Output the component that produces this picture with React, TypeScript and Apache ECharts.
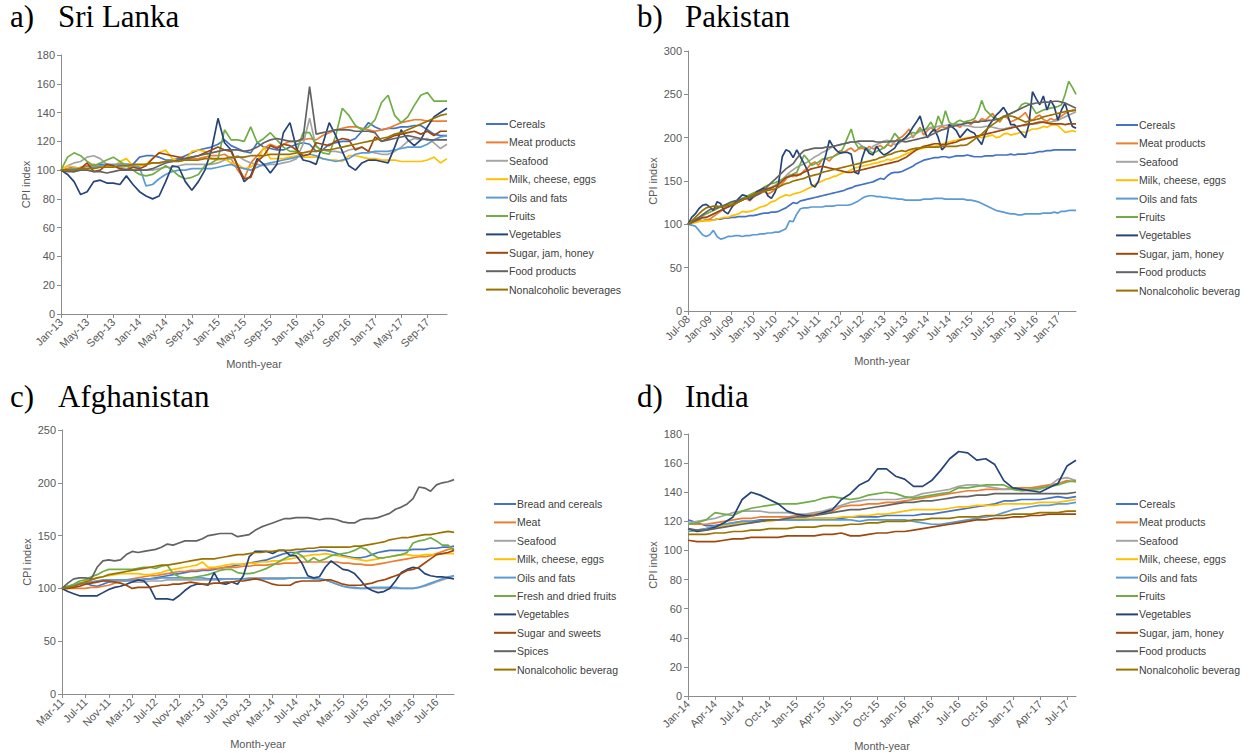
import React, { useEffect, useRef } from 'react';
import * as echarts from 'echarts';

const MONTHS = ['Jan', 'Feb', 'Mar', 'Apr', 'May', 'Jun', 'Jul', 'Aug', 'Sep', 'Oct', 'Nov', 'Dec'];
function monthLabels(startMonth: number, startYear: number, count: number): string[] {
  const out: string[] = [];
  for (let k = 0; k < count; k++) {
    const m = (startMonth + k) % 12;
    const y = startYear + Math.floor((startMonth + k) / 12);
    out.push(MONTHS[m] + '-' + String(y).padStart(2, '0'));
  }
  return out;
}

const categoriesA = monthLabels(0, 13, 60);
const categoriesB = monthLabels(6, 8, 108);
const categoriesC = monthLabels(2, 11, 68);
const categoriesD = monthLabels(0, 14, 44);

const namesStd = ['Cereals', 'Meat products', 'Seafood', 'Milk, cheese, eggs', 'Oils and fats', 'Fruits', 'Vegetables', 'Sugar, jam, honey', 'Food products', 'Nonalcoholic beverages'];
const namesC = ['Bread and cereals', 'Meat', 'Seafood', 'Milk, cheese, eggs', 'Oils and fats', 'Fresh and dried fruits', 'Vegetables', 'Sugar and sweets', 'Spices', 'Nonalcoholic beverages'];
const colors = ['#4472C4', '#ED7D31', '#A5A5A5', '#FFC000', '#5B9BD5', '#70AD47', '#264478', '#9E480E', '#636363', '#997300'];

// ---------- a) Sri Lanka ----------
const cerealsA = [100,101,102,101,103,103,104,104,103,104,104,104,109,110,110,109,107,107,108,110,112,114,115,116,118,121,117,115,113,112,119,116,115,114,114,116,118,119,118,113,114,118,119,120,120,122,127,133,130,128,129,129,130,130,131,131,128,125,124,124];
const meatA = [100,101,100,102,103,104,103,102,103,104,103,102,103,104,105,105,106,106,107,107,108,108,109,110,110,111,108,100,94,105,110,115,118,116,118,120,120,121,122,121,124,126,128,129,130,130,129,128,127,128,129,131,133,134,135,135,134,134,134,134];
const seafoodA = [100,103,105,106,109,110,108,104,103,102,101,100,100,100,100,101,102,102,103,104,104,104,104,104,105,107,108,110,107,105,104,103,104,104,105,106,108,118,136,116,114,113,113,112,114,115,116,113,112,111,111,113,116,120,122,121,122,119,115,118];
const milkA = [100,103,102,101,101,102,103,102,102,106,108,103,103,104,108,112,114,108,106,107,113,114,113,108,107,108,105,104,101,102,106,116,108,108,108,109,110,109,109,109,108,107,107,106,110,110,109,108,108,107,107,107,106,106,106,106,107,109,105,108];
const oilsA = [100,100,101,101,101,102,103,104,104,104,104,103,102,89,90,94,97,99,100,100,101,101,101,101,102,103,104,102,101,100,102,104,105,106,107,108,109,110,111,110,108,107,106,107,108,111,112,112,113,113,113,114,115,116,116,116,118,121,123,124];
const fruitsA = [100,109,112,110,106,103,105,107,109,106,103,100,97,96,97,100,103,100,96,94,95,97,103,105,108,128,121,121,120,130,119,122,126,121,116,113,113,126,126,117,112,111,124,143,138,131,128,130,135,147,152,138,133,137,145,152,154,148,148,148];
const vegA = [100,97,92,83,85,92,93,91,91,90,96,90,85,82,80,82,92,103,102,92,86,92,100,114,136,119,114,103,92,96,108,104,98,104,126,133,115,107,106,104,118,133,124,113,103,100,105,107,107,106,105,116,128,121,117,121,130,137,140,143];
const sugarA = [100,100,99,101,105,99,100,104,103,101,100,102,101,103,108,112,111,110,109,108,109,110,112,114,116,114,113,103,94,95,106,110,117,115,118,117,114,110,111,119,118,117,120,122,121,114,116,113,123,120,122,124,125,126,127,125,127,124,127,127];
const foodA = [100,99,99,100,100,99,99,98,99,100,100,100,100,100,101,103,105,106,107,108,109,110,111,112,113,114,114,114,113,114,116,119,121,122,121,120,120,122,158,125,126,127,128,128,128,127,127,127,126,120,121,122,123,124,123,122,121,121,121,121];
const nonalcA = [100,100,100,101,101,101,102,102,102,103,103,104,104,104,105,105,106,106,106,107,107,107,108,108,108,108,109,109,109,110,110,110,111,111,111,111,112,112,113,113,114,114,115,116,117,118,119,120,121,122,123,125,126,128,130,132,134,136,138,139];

// ---------- b) Pakistan ----------
const cerealsB = [100,102,103,104,104,105,105,105,106,106,107,107,108,108,109,109,109,110,110,111,112,113,113,114,114,115,117,119,122,125,124,127,128,129,130,131,132,133,134,135,136,137,138,139,141,142,144,145,146,147,148,149,151,153,152,156,159,160,160,161,163,165,167,170,172,174,175,176,177,177,178,178,177,178,179,179,179,180,179,178,178,178,179,179,179,180,180,180,180,181,180,181,181,181,182,182,183,184,184,185,185,186,186,186,186,186,186,186];
const meatB = [100,102,104,104,104,105,106,109,112,115,118,120,121,123,126,128,130,127,131,134,136,138,135,137,140,143,147,152,157,155,158,157,162,165,170,172,168,175,176,173,178,181,185,183,186,188,184,187,188,186,190,187,189,191,188,192,190,195,199,201,205,210,200,206,212,203,208,212,207,210,213,211,213,215,214,212,216,218,215,220,218,222,220,224,228,222,218,225,223,218,220,222,225,229,222,220,224,226,221,219,222,220,222,225,228,230,232,231];
const seafoodB = [100,101,103,105,107,108,110,112,114,116,119,121,122,124,126,128,130,131,133,135,137,139,141,143,145,148,152,156,160,163,166,168,170,172,175,178,180,183,185,187,190,191,192,193,194,195,195,194,190,188,186,190,192,194,196,197,195,192,193,196,198,200,202,205,207,209,210,212,212,213,214,214,215,215,216,215,214,214,213,212,212,212,213,213,212,211,210,210,211,212,213,213,214,214,215,216,216,217,218,217,218,219,220,222,224,226,228,230];
const milkB = [100,101,102,103,104,104,104,105,106,107,108,108,110,111,112,115,114,115,116,118,120,121,123,126,127,130,132,134,133,135,136,137,139,141,143,146,148,150,152,153,155,156,158,160,161,163,165,166,167,168,169,170,171,172,173,175,174,176,177,179,181,183,185,186,187,188,189,190,190,191,192,194,195,196,197,198,199,200,200,201,201,200,201,202,203,200,201,204,205,203,204,205,207,206,208,210,210,211,213,212,214,215,214,210,206,207,208,207];
const oilsB = [100,99,98,93,88,86,88,93,86,83,84,86,86,87,87,86,87,87,88,88,89,89,90,90,91,91,93,95,104,103,112,118,119,119,120,120,120,120,121,121,121,122,122,122,122,123,125,127,130,132,133,133,132,132,131,131,130,130,129,129,128,128,128,128,128,129,129,129,130,130,130,129,129,129,129,129,129,128,128,127,126,124,122,120,118,116,115,114,113,112,112,111,111,112,112,112,112,112,113,113,113,114,113,115,115,116,116,116];
const fruitsB = [100,103,106,108,110,112,114,116,118,120,122,123,124,126,128,130,132,134,136,138,140,143,145,147,148,150,152,154,156,158,160,170,180,175,168,170,172,175,176,177,178,180,182,190,200,210,195,188,190,188,185,182,184,186,188,192,197,205,200,196,200,204,206,205,210,208,212,218,210,225,215,231,218,215,218,220,218,219,220,222,230,243,232,228,224,222,220,224,226,228,230,232,238,240,239,235,228,230,232,233,234,235,236,238,250,265,258,250];
const vegB = [100,108,112,118,122,123,120,116,126,124,115,112,119,125,130,134,133,128,132,138,140,142,133,130,137,148,178,186,184,177,186,178,170,162,146,143,150,165,180,197,190,185,182,183,183,181,160,158,176,188,182,180,190,184,180,182,185,188,195,197,200,205,212,218,225,210,200,206,210,200,186,190,215,212,208,200,205,210,207,205,198,192,205,214,220,226,230,235,228,215,215,210,205,200,215,253,245,238,248,232,243,236,220,232,240,225,213,211];
const sugarB = [100,102,104,106,108,108,110,112,114,116,118,120,122,124,126,128,130,132,134,136,138,140,141,142,144,146,150,154,155,157,156,158,160,162,164,165,166,167,166,165,164,163,162,161,160,160,161,162,163,164,165,166,167,168,169,170,171,172,173,175,177,180,183,186,188,190,191,192,193,193,192,192,193,194,195,197,198,199,200,201,202,203,204,205,206,207,208,209,210,211,212,213,214,215,216,216,217,218,218,217,216,216,216,216,215,216,216,216];
const foodB = [100,102,105,108,111,114,117,118,119,121,122,124,126,127,128,129,130,131,132,134,136,140,144,148,152,156,160,164,167,170,176,181,185,186,187,188,188,188,189,189,190,191,192,193,194,195,195,196,196,196,196,196,195,195,195,195,196,196,197,196,195,196,197,198,199,200,201,203,205,207,209,210,212,213,214,215,216,217,217,218,218,219,219,220,220,221,222,224,226,228,230,232,234,236,238,239,240,240,241,241,241,242,242,241,240,238,236,234];
const nonalcB = [100,104,108,112,116,119,120,121,121,120,121,122,122,124,126,128,130,132,134,136,137,138,139,140,141,143,145,147,148,150,151,152,153,155,156,157,158,160,161,162,163,164,165,166,167,168,169,170,171,172,173,174,175,177,178,180,181,183,184,185,184,186,187,188,188,189,189,189,189,189,190,190,190,190,190,191,191,192,195,198,201,204,208,212,215,218,222,224,225,225,224,222,220,218,219,220,221,222,224,225,226,227,228,229,230,231,231,232];

// ---------- c) Afghanistan ----------
const breadC = [100,101,102,104,105,103,102,104,106,107,107,107,107,108,108,109,110,111,112,113,114,115,116,116,117,117,118,119,120,121,122,123,124,125,126,127,129,131,133,134,134,135,135,135,136,136,135,133,131,130,129,129,130,132,134,135,136,136,136,136,137,137,137,138,138,139,139,140];
const meatC = [100,100,100,100,100,101,101,102,103,105,107,108,109,110,111,112,112,113,114,115,116,116,117,117,118,118,119,119,120,120,120,121,121,122,122,122,123,123,124,124,124,125,125,125,125,125,125,125,124,124,123,123,122,122,123,124,125,126,127,128,129,130,130,131,133,135,137,138];
const seafoodC = [100,101,102,104,105,106,107,107,107,107,107,107,106,106,106,107,107,107,108,108,108,108,108,108,108,108,108,108,109,109,109,109,110,110,110,110,110,110,110,110,110,110,110,110,109,108,106,104,102,101,100,100,100,100,100,100,100,100,100,100,100,101,102,104,106,108,110,112];
const milkC = [100,101,103,105,107,109,110,111,112,113,114,114,114,114,113,113,114,115,117,118,119,120,121,122,125,120,120,121,122,123,123,123,124,124,125,125,126,126,127,128,129,130,131,132,132,133,132,131,130,129,128,127,126,127,128,129,130,131,132,132,131,131,132,132,132,133,133,133];
const oilsC = [100,102,103,105,105,106,107,108,108,108,108,108,108,108,109,109,109,110,110,110,110,110,110,110,110,109,109,109,109,109,109,109,109,109,109,109,109,109,109,110,110,110,110,109,109,108,106,104,102,101,101,100,100,101,101,101,101,101,100,100,100,101,103,105,107,109,111,112];
const fruitsC = [100,102,104,107,108,111,113,116,118,118,118,118,118,119,120,120,119,121,122,114,111,110,110,111,112,113,115,117,118,118,115,114,114,115,117,119,122,125,128,131,134,131,125,129,126,128,131,132,133,134,136,139,137,132,129,129,130,131,132,134,143,145,146,148,145,141,141,136];
const vegC = [100,97,95,93,93,93,93,96,99,101,102,104,106,108,107,101,90,90,90,89,93,98,102,104,104,103,115,105,104,106,104,112,130,135,135,135,133,136,136,131,131,124,112,110,111,120,126,122,118,117,114,108,101,98,96,97,100,107,115,118,120,119,114,112,111,111,110,109];
const sugarC = [100,100,101,102,104,105,106,107,107,106,105,103,100,101,101,101,102,103,103,104,104,105,106,105,104,104,105,105,106,106,107,107,108,109,108,106,104,103,103,103,106,107,107,107,107,108,108,106,104,103,103,103,104,105,107,108,110,112,114,117,118,120,124,128,132,133,134,136];
const spicesC = [100,105,109,110,110,109,120,126,127,126,127,132,135,134,135,136,137,139,142,141,143,145,145,145,147,150,151,152,152,152,149,150,151,155,158,160,162,164,166,166,167,167,167,166,165,166,166,165,163,162,162,165,166,166,167,169,171,175,177,180,185,196,195,192,198,200,201,203];
const nonalcC = [100,101,102,104,106,108,110,111,113,114,115,116,117,118,119,120,121,122,122,123,124,125,126,127,128,128,128,129,130,131,132,132,133,134,134,135,135,136,136,136,137,137,138,138,139,139,139,139,139,139,140,140,141,142,143,144,146,147,148,148,149,150,151,151,152,153,154,153];

// ---------- d) India ----------
const cerealsD = [121,119,117,117,118,119,120,120,121,121,121,121,121,121,122,122,122,122,123,123,123,123,124,124,124,124,125,125,126,127,128,129,130,131,132,134,134,135,135,135,136,137,136,137];
const meatD = [118,118,118,119,120,121,122,122,123,123,123,123,124,124,125,126,127,130,131,131,132,132,133,133,134,135,136,137,138,139,140,141,141,142,142,142,143,143,143,144,145,146,148,147];
const seafoodD = [119,120,121,122,124,126,127,127,127,126,126,126,125,125,126,127,129,131,133,134,135,135,135,135,136,137,139,140,141,142,144,145,145,144,143,142,142,141,141,142,144,149,150,148];
const milkD = [113,114,115,116,117,118,119,119,120,120,121,121,122,122,122,122,122,123,123,124,124,125,125,126,127,128,128,128,128,129,130,130,131,131,131,132,132,132,132,133,133,133,134,135];
const oilsD = [113,114,115,117,118,119,120,120,120,121,121,121,121,121,121,121,121,121,121,120,121,121,121,121,121,120,119,118,118,119,120,121,122,123,124,126,128,129,130,131,131,132,132,133];
const fruitsD = [118,119,121,126,125,124,127,129,130,131,132,132,132,133,134,136,137,136,135,136,138,139,140,139,137,136,137,138,139,140,143,143,144,145,145,145,142,141,142,143,144,145,147,148];
const vegD = [115,113,114,116,119,123,135,140,138,135,132,127,125,124,124,126,128,135,139,145,148,156,156,151,149,144,144,148,155,163,168,167,162,163,159,148,143,142,141,140,143,146,158,162];
const sugarD = [107,106,106,106,107,108,108,109,109,109,109,110,110,110,110,111,111,112,110,110,111,112,112,113,113,114,115,116,117,118,119,120,121,121,122,122,123,123,124,124,125,125,125,125];
const foodD = [115,114,114,115,116,117,118,119,120,121,121,122,123,123,124,125,126,127,128,128,129,130,131,132,133,133,134,134,135,136,137,137,138,138,139,139,139,139,139,139,139,139,139,140];
const nonalcD = [111,111,111,112,112,113,113,114,114,115,115,115,116,116,116,117,117,117,118,118,119,119,120,120,120,121,121,122,122,122,123,123,123,124,124,124,125,125,125,126,126,126,127,127];

const yMaxes = [180, 300, 250, 180];
const yIntervals = [20, 50, 50, 20];
const labelIntervals = [3, 5, 3, 2];
const panelLetters = ['a)', 'b)', 'c)', 'd)'];
const panelTitles = ['Sri Lanka', 'Pakistan', 'Afghanistan', 'India'];

const panels = [
  { cats: categoriesA, names: namesStd, data: [cerealsA, meatA, seafoodA, milkA, oilsA, fruitsA, vegA, sugarA, foodA, nonalcA] },
  { cats: categoriesB, names: namesStd, data: [cerealsB, meatB, seafoodB, milkB, oilsB, fruitsB, vegB, sugarB, foodB, nonalcB] },
  { cats: categoriesC, names: namesC, data: [breadC, meatC, seafoodC, milkC, oilsC, fruitsC, vegC, sugarC, spicesC, nonalcC] },
  { cats: categoriesD, names: namesStd, data: [cerealsD, meatD, seafoodD, milkD, oilsD, fruitsD, vegD, sugarD, foodD, nonalcD] },
];

// layout (pixels)
const grids = [
  { left: 61, top: 55, width: 386, height: 259 },
  { left: 688, top: 51, width: 388, height: 260 },
  { left: 62, top: 430, width: 392, height: 264 },
  { left: 688, top: 434, width: 388, height: 262 },
];
const legendPos = [
  { left: 486, top: 117, width: 140 },
  { left: 1116, top: 118, width: 104 },
  { left: 494, top: 497, width: 106 },
  { left: 1116, top: 497, width: 105 },
];
const titlePos = [
  { x: 10, y: 1 }, { x: 637, y: 1 }, { x: 10, y: 381 }, { x: 637, y: 381 },
];

const AXIS_COLOR = '#8c8c8c';
const TEXT_COLOR = '#595959';
const SANS = 'Liberation Sans, Arial, sans-serif';
const SERIF = 'Liberation Serif, Times New Roman, serif';

export default function App() {
  const ref = useRef<HTMLDivElement>(null);
  useEffect(() => {
    if (!ref.current) return;
    const chart = echarts.init(ref.current, null, { renderer: 'svg' });
    const series: any[] = [];
    panels.forEach((p, pi) => {
      p.data.forEach((vals, si) => {
        series.push({
          type: 'line',
          name: p.names[si],
          xAxisIndex: pi,
          yAxisIndex: pi,
          data: vals,
          symbol: 'none',
          showSymbol: false,
          color: colors[si],
          lineStyle: { width: 1.7, color: colors[si] },
          itemStyle: { color: colors[si] },
          emphasis: { disabled: true },
        });
      });
    });
    const titles: any[] = [];
    titlePos.forEach((tp, i) => {
      const ts = { fontFamily: SERIF, fontSize: 31, fontWeight: 'normal', color: '#000' };
      titles.push({ text: panelLetters[i], left: tp.x, top: tp.y, padding: 0, textStyle: ts });
      titles.push({ text: panelTitles[i], left: tp.x + 48, top: tp.y, padding: 0, textStyle: ts });
    });
    const option: any = {
      animation: false,
      backgroundColor: '#ffffff',
      title: titles,
      grid: grids.map((g) => ({ ...g, containLabel: false, outerBoundsMode: 'none' })),
      xAxis: panels.map((p, i) => ({
        type: 'category',
        gridIndex: i,
        data: p.cats,
        boundaryGap: false,
        axisLine: { lineStyle: { color: AXIS_COLOR, width: 1 } },
        axisTick: { show: true, interval: labelIntervals[i], length: 4, lineStyle: { color: AXIS_COLOR } },
        axisLabel: { interval: labelIntervals[i], rotate: 45, fontSize: 11, color: TEXT_COLOR, fontFamily: SANS, margin: 6 },
        splitLine: { show: false },
        name: 'Month-year',
        nameLocation: 'middle',
        nameGap: 44,
        nameTextStyle: { fontSize: 11, color: TEXT_COLOR, fontFamily: SANS },
      })),
      yAxis: panels.map((p, i) => ({
        type: 'value',
        gridIndex: i,
        min: 0,
        max: yMaxes[i],
        interval: yIntervals[i],
        axisLine: { show: true, lineStyle: { color: AXIS_COLOR, width: 1 } },
        axisTick: { show: true, length: 4, lineStyle: { color: AXIS_COLOR } },
        axisLabel: { fontSize: 11, color: TEXT_COLOR, fontFamily: SANS, margin: 6 },
        splitLine: { show: false },
        name: 'CPI index',
        nameLocation: 'middle',
        nameRotate: 90,
        nameGap: 30,
        nameTextStyle: { fontSize: 11, color: TEXT_COLOR, fontFamily: SANS },
      })),
      legend: panels.map((p, i) => ({
        data: p.names,
        orient: 'vertical',
        left: legendPos[i].left,
        top: legendPos[i].top,
        padding: 0,
        icon: 'rect',
        itemWidth: 22,
        itemHeight: 2,
        itemGap: 4.4,
        selectedMode: false,
        textStyle: {
          fontSize: 10.5,
          lineHeight: 14,
          color: '#404040',
          fontFamily: SANS,
          padding: [0, 0, 0, -4],
          width: legendPos[i].width,
          overflow: 'truncate',
          ellipsis: '',
        },
      })),
      series,
    };
    chart.setOption(option);
    return () => chart.dispose();
  }, []);
  return <div ref={ref} style={{ position: 'absolute', left: 0, top: 0, width: 1255, height: 753, background: '#fff' }} />;
}
